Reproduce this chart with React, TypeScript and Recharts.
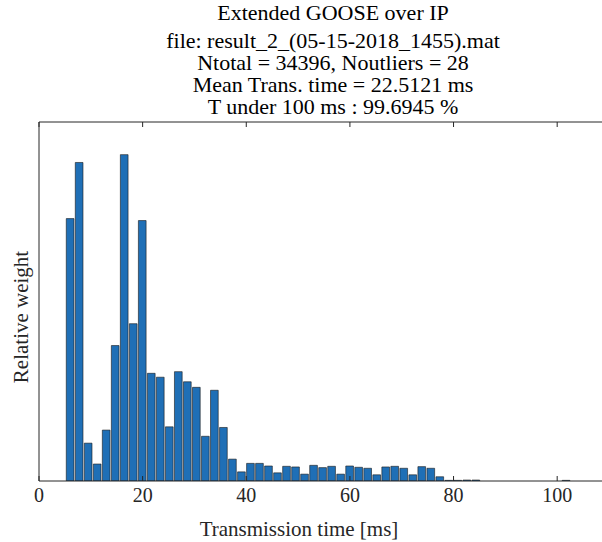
import React from 'react';
import { BarChart, Bar, XAxis, YAxis } from 'recharts';

const binCenters = [
  5.94, 7.68, 9.42, 11.16, 12.9, 14.64, 16.38, 18.12, 19.86, 21.6,
  23.34, 25.08, 26.82, 28.56, 30.3, 32.04, 33.78, 35.52, 37.26, 39.0,
  40.74, 42.48, 44.22, 45.96, 47.7, 49.44, 51.18, 52.92, 54.66, 56.4,
  58.14, 59.88, 61.62, 63.36, 65.1, 66.84, 68.58, 70.32, 72.06, 73.8,
  75.54, 77.28, 79.02, 80.76, 82.5, 84.24, 101.64,
];
const weights = [
  0.804, 0.976, 0.116, 0.052, 0.156, 0.415, 1.0, 0.482, 0.798, 0.33,
  0.318, 0.166, 0.335, 0.304, 0.287, 0.137, 0.278, 0.164, 0.067, 0.028,
  0.054, 0.054, 0.046, 0.025, 0.045, 0.043, 0.021, 0.048, 0.041, 0.045,
  0.021, 0.046, 0.042, 0.039, 0.019, 0.043, 0.045, 0.039, 0.019, 0.044,
  0.039, 0.013, 0.002, 0.002, 0.003, 0.003, 0.002,
];
const xTicks = [0, 20, 40, 60, 80, 100];
const titleLines = [
  'Extended GOOSE over IP',
  'file: result_2_(05-15-2018_1455).mat',
  'Ntotal = 34396, Noutliers = 28',
  'Mean Trans. time = 22.5121 ms',
  'T under 100 ms : 99.6945 %',
];
const xLabel = 'Transmission time [ms]';
const yLabel = 'Relative weight';

const data = binCenters.map((t, i) => ({ t, w: weights[i] }));

const FONT = '"Liberation Serif", "Times New Roman", serif';
const AXIS = '#262626';

const titleBaselines = [20, 48, 70, 92, 114];

export default function App() {
  return (
    <div style={{ position: 'fixed', left: 0, top: 0, width: 602, height: 542, overflow: 'hidden', background: '#fff' }}>
      <BarChart
        width={620}
        height={542}
        data={data}
        margin={{ top: 112, right: 11, bottom: 0, left: 0 }}
        style={{ fontFamily: FONT }}
      >
        <XAxis
          dataKey="t"
          type="number"
          domain={[0, 110]}
          ticks={xTicks}
          height={61}
          axisLine={{ stroke: AXIS, strokeWidth: 1 }}
          tickLine={{ stroke: AXIS, strokeWidth: 1 }}
          tickSize={-5}
          tickMargin={12}
          tick={{ fill: '#262626', fontSize: 20, fontFamily: FONT }}
          allowDataOverflow
        />
        <XAxis
          xAxisId="top"
          orientation="top"
          dataKey="t"
          type="number"
          domain={[0, 110]}
          ticks={xTicks}
          height={10}
          axisLine={{ stroke: AXIS, strokeWidth: 1 }}
          tickLine={{ stroke: AXIS, strokeWidth: 1 }}
          tickSize={-5}
          tick={() => <g />}
        />
        <YAxis
          type="number"
          domain={[0, 1.1]}
          width={39}
          axisLine={{ stroke: AXIS, strokeWidth: 1 }}
          tick={false}
          tickLine={false}
          allowDataOverflow
        />
        <Bar
          dataKey="w"
          fill="#1f6fb6"
          stroke="#1a1a1a"
          strokeWidth={0.6}
          barSize={7.7}
          isAnimationActive={false}
        />
      </BarChart>
      <svg width={602} height={542} style={{ position: 'absolute', left: 0, top: 0, pointerEvents: 'none' }}>
        {titleLines.map((line, i) => (
          <text key={i} x={333} y={titleBaselines[i]} textAnchor="middle" fontFamily={FONT} fontSize={22} fill="#000">
            {line}
          </text>
        ))}
        <text x={299} y={536} textAnchor="middle" fontFamily={FONT} fontSize={21} fill="#262626">
          {xLabel}
        </text>
        <text
          x={0}
          y={0}
          transform="translate(28 317) rotate(-90)"
          textAnchor="middle"
          fontFamily={FONT}
          fontSize={21}
          fill="#262626"
        >
          {yLabel}
        </text>
      </svg>
    </div>
  );
}
